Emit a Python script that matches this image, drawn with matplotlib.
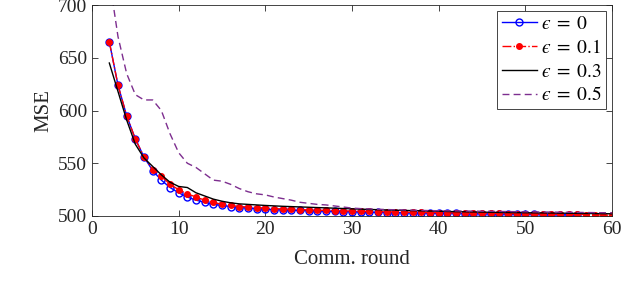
import numpy as np
import matplotlib
matplotlib.use('Agg')
import matplotlib.pyplot as plt

# Comm. rounds
rounds_a = np.arange(2, 57)   # eps = 0 stops at round 56
rounds_b = np.arange(2, 61)

mse_eps0 = [665, 624, 595, 573, 556, 543, 534, 527, 522, 518, 515, 513, 511, 510,
            509, 508, 507.5, 507, 506.5, 506, 505.8, 505.5, 505.3, 505, 504.8, 504.5,
            504.3, 504.1, 504, 503.8, 503.6, 503.4, 503.3, 503.2, 503, 502.9, 502.8,
            502.7, 502.6, 502.5, 502.4, 502.3, 502.2, 502.1, 502, 501.9, 501.8, 501.7,
            501.6, 501.5, 501.4, 501.3, 501.2, 501.1, 501.0]
mse_eps01 = [665, 624, 595, 573, 556, 544, 538, 530, 525, 521, 518, 515, 513, 511,
             510, 509, 508.5, 508, 507.5, 507, 506.7, 506.4, 506.1, 505.8, 505.5, 505.3,
             505.1, 504.9, 504.7, 504.5, 504.3, 504.1, 504, 503.8, 503.7, 503.5, 503.4,
             503.3, 503.2, 503, 502.9, 502.8, 502.7, 502.6, 502.5, 502.4, 502.3, 502.2,
             502.1, 502, 501.9, 501.8, 501.7, 501.6, 501.5, 501.3, 501.1, 500.9, 500.7]
mse_eps03 = [645, 618, 591, 568, 555, 547, 539, 532, 528, 527, 522, 519, 516, 514,
             512.5, 511.5, 511, 510.5, 510, 509.6, 509.2, 508.9, 508.6, 508.3, 508, 507.7,
             507.4, 507.1, 506.8, 506.5, 506.2, 506, 505.7, 505.5, 505.3, 505.1, 504.9,
             504.7, 504.5, 504.3, 504.1, 504, 503.8, 503.7, 503.5, 503.4, 503.3, 503.2,
             503.1, 503, 502.9, 502.8, 502.7, 502.6, 502.5, 502.4, 502.3, 502.2, 502.1]
mse_eps05 = [725, 670, 635, 615, 610, 610, 600, 578, 560, 550, 546, 540, 534, 533,
             530, 526, 523, 521, 520, 518, 516.5, 515, 513, 512, 511, 510.5, 509.5, 508.5,
             507.5, 507, 506.7, 506.4, 506.1, 505.9, 505.7, 505.5, 505.3, 505.1, 505,
             504.9, 504.8, 504.7, 504.6, 504.5, 504.4, 504.3, 504.2, 504.1, 504, 503.9,
             503.8, 503.7, 503.6, 503.5, 503.4, 503.3, 503.2, 503.1, 503]

eps_labels = ['0', '0.1', '0.3', '0.5']
x_ticks = [0, 10, 20, 30, 40, 50, 60]
y_ticks = [500, 550, 600, 650, 700]


def main():
    plt.rcParams['font.family'] = ['Liberation Serif', 'DejaVu Serif']
    plt.rcParams['mathtext.fontset'] = 'stix'

    # lunate epsilon, spaced like LaTeX
    labels = ['$\u03f5\\;=\\;%s$' % e for e in eps_labels]

    fig = plt.figure(figsize=(6.4, 2.9), dpi=100)
    ax = fig.add_axes([92 / 640, 74 / 290, 520 / 640, 211 / 290])

    ax.plot(rounds_a, mse_eps0, color='b', marker='o', mfc='none', ms=5, mew=1.0,
            lw=1.0, label=labels[0])
    ax.plot(rounds_b, mse_eps01, color='r', linestyle='-.', marker='.', ms=8,
            lw=1.0, label=labels[1])
    ax.plot(rounds_b, mse_eps03, color='k', lw=1.0, label=labels[2])
    ax.plot(rounds_b, mse_eps05, color=(0.49, 0.18, 0.56), linestyle='--',
            dashes=(5, 3), lw=1.0, label=labels[3])

    ax.set_xlim(0, 60)
    ax.set_ylim(500, 700)
    ax.set_xticks(x_ticks)
    ax.set_yticks(y_ticks)
    ax.tick_params(direction='in', top=True, right=True, labelsize=14,
                   length=4, width=0.6, colors='0.15', labelcolor='0.15')
    for sp in ax.spines.values():
        sp.set_color('0.15')
        sp.set_linewidth(0.6)

    ax.set_xlabel('Comm. round', fontsize=15, color='0.15', labelpad=9)
    ax.set_ylabel('MSE', fontsize=15, color='0.15', labelpad=3)

    leg = ax.legend(loc='upper right', fontsize=14, handlelength=1.8,
                    handletextpad=0.2, borderpad=0.25, labelspacing=0.3,
                    fancybox=False, framealpha=1, borderaxespad=0.3)
    leg.get_frame().set_edgecolor('0.15')
    leg.get_frame().set_linewidth(0.6)

    fig.savefig('out.png', dpi=100)


if __name__ == '__main__':
    main()
